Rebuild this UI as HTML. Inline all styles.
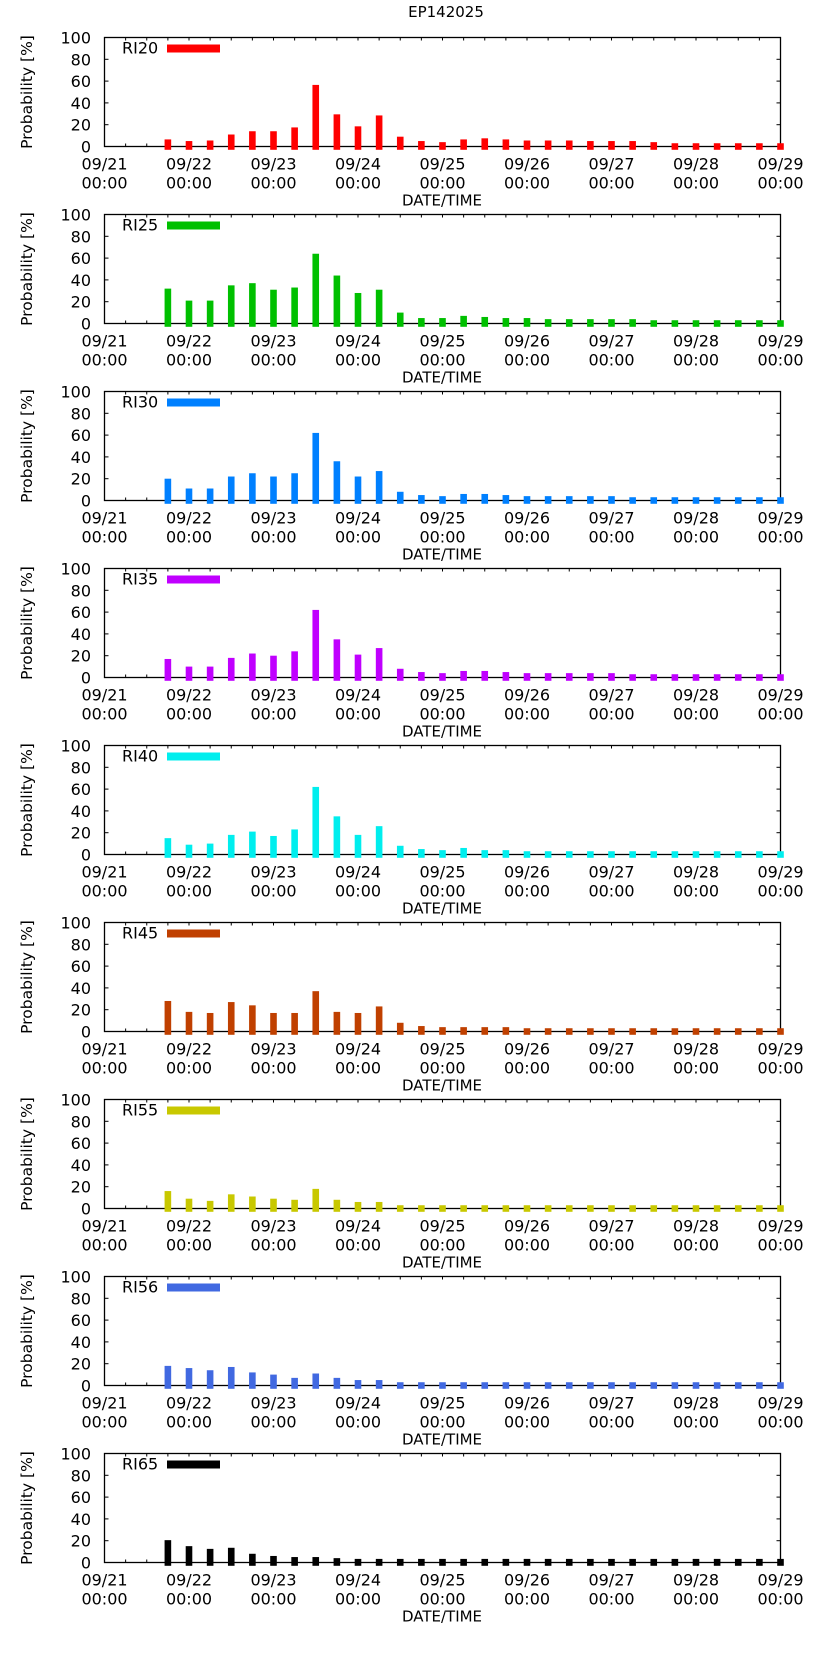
<!DOCTYPE html>
<html><head><meta charset="utf-8">
<style>
html,body{margin:0;padding:0;background:#fff;}
svg{display:block;font-family:"DejaVu Sans","Liberation Sans",sans-serif;}
</style></head>
<body>
<svg id="chart" width="822" height="1653" viewBox="0 0 822 1653" xmlns="http://www.w3.org/2000/svg">
<text x="446" y="17" font-size="15" text-anchor="middle" fill="#000">EP142025</text>
</svg>
<script>
const categories = ["09/21 18:00","09/22 00:00","09/22 06:00","09/22 12:00","09/22 18:00","09/23 00:00","09/23 06:00","09/23 12:00","09/23 18:00","09/24 00:00","09/24 06:00","09/24 12:00","09/24 18:00","09/25 00:00","09/25 06:00","09/25 12:00","09/25 18:00","09/26 00:00","09/26 06:00","09/26 12:00","09/26 18:00","09/27 00:00","09/27 06:00","09/27 12:00","09/27 18:00","09/28 00:00","09/28 06:00","09/28 12:00","09/28 18:00","09/29 00:00"];
const seriesNames = ["RI20","RI25","RI30","RI35","RI40","RI45","RI55","RI56","RI65"];
const seriesColors = ["#ff0000","#00c000","#0080ff","#c000ff","#00eeee","#c04000","#c8c800","#4169e1","#000000"];
const ri20 = [6.5,5,5.5,11,14,14,17.5,56.5,29.5,18.5,28.5,9,5,4,6.5,7.5,6.5,5.5,5.5,5.5,5,5,5,4,3,3,3,3,3,3];
const ri25 = [32,21,21,35,37,31,33,64,44,28,31,10,5,5,7,6,5,5,4,4,4,4,4,3,3,3,3,3,3,3];
const ri30 = [20,11,11,22,25,22,25,62,36,22,27,8,5,4,6,6,5,4,4,4,4,4,3,3,3,3,3,3,3,3];
const ri35 = [17,10,10,18,22,20,24,62,35,21,27,8,5,4,6,6,5,4,4,4,4,4,3,3,3,3,3,3,3,3];
const ri40 = [15,9,10,18,21,17,23,62,35,18,26,8,5,4,6,4,4,3,3,3,3,3,3,3,3,3,3,3,3,3];
const ri45 = [28,18,17,27,24,17,17,37,18,17,23,8,5,4,4,4,4,3,3,3,3,3,3,3,3,3,3,3,3,3];
const ri55 = [16,9,7,13,11,9,8,18,8,6,6,3,3,3,3,3,3,3,3,3,3,3,3,3,3,3,3,3,3,3];
const ri56 = [18,16,14,17,12,10,7,11,7,5,5,3,3,3,3,3,3,3,3,3,3,3,3,3,3,3,3,3,3,3];
const ri65 = [20.5,15,12.5,13.5,8,6,5,5,4,3.3,3.3,3.3,3.3,3.3,3.3,3.3,3.3,3.3,3.3,3.3,3.3,3.3,3.3,3.3,3.3,3.3,3.3,3.3,3.3,3.3];
const yTicks = [0,20,40,60,80,100];
const xTickLabels = ["09/21","09/22","09/23","09/24","09/25","09/26","09/27","09/28","09/29"];

const allSeries = [ri20,ri25,ri30,ri35,ri40,ri45,ri55,ri56,ri65];
const NS = "http://www.w3.org/2000/svg";
const svg = document.getElementById('chart');
const L = 104.5, R = 780.5, H = 109, GAP = 177, TOP0 = 37.5;
function xScale(hours){ return L + (R - L) * hours / (8*24); }
function catHours(c){ const d = parseInt(c.slice(3,5)) - 21; const h = parseInt(c.slice(6,8)); return d*24 + h; }
function mk(tag, attrs, parent){ const e = document.createElementNS(NS, tag); for (const k in attrs) e.setAttribute(k, attrs[k]); (parent||svg).appendChild(e); return e; }

allSeries.forEach((vals, p) => {
  const top = TOP0 + p*GAP, base = top + H;
  const yScale = v => base - H * v / 100;
  const g = mk('g', {});
  
  
  const yt = mk('text', {x:0, y:0, 'font-size':15.5, 'text-anchor':'middle', transform:`translate(32,${top+H/2}) rotate(-90)`}, g);
  yt.textContent = 'Probability [%]';
  
  
  yTicks.forEach(t => {
    const y = yScale(t);
    const tl = mk('text', {x:91, y:y+6, 'font-size':16, 'text-anchor':'end'}, g);
    tl.textContent = t;
    
    
    if (t > 0 && t < 100) {
      mk('line', {x1:L, x2:L+4, y1:y, y2:y, stroke:'#000', 'stroke-width':1}, g);
      mk('line', {x1:R, x2:R-4, y1:y, y2:y, stroke:'#000', 'stroke-width':1}, g);
    }
  });
  for (let h = 6; h < 192; h += 6) {
    const x = xScale(h);
    mk('line', {x1:x, x2:x, y1:top, y2:top+3, stroke:'#000', 'stroke-width':1}, g);
    mk('line', {x1:x, x2:x, y1:base, y2:base-3, stroke:'#000', 'stroke-width':1}, g);
  }
  xTickLabels.forEach((lab, i) => {
    const x = xScale(i*24);
    const t1 = mk('text', {x:x, y:base+23, 'font-size':16, 'text-anchor':'middle'}, g);
    t1.textContent = lab;
    
    
    const t2 = mk('text', {x:x, y:base+42, 'font-size':16, 'text-anchor':'middle'}, g);
    t2.textContent = '00:00';
    
    
  });
  const xt = mk('text', {x:442, y:base+59, 'font-size':15, 'text-anchor':'middle'}, g);
  xt.textContent = 'DATE/TIME';
  
  
  const fr = mk('rect', {x:L, y:top, width:R-L, height:H, fill:'none', stroke:'#000', 'stroke-width':1.3}, g);
  
  
  vals.forEach((v, i) => {
    const x = xScale(catHours(categories[i]));
    const y = yScale(v);
    const b = mk('rect', {x:x-3.3, y:y, width:6.6, height:base+3.3-y, fill:seriesColors[p]}, g);
    
    
  });
  const lt = mk('text', {x:122, y:top+16, 'font-size':16}, g);
  lt.textContent = seriesNames[p];
  
  
  const lb = mk('rect', {x:167, y:top+7, width:53, height:8, fill:seriesColors[p]}, g);
  
  
});
</script>
</body></html>
